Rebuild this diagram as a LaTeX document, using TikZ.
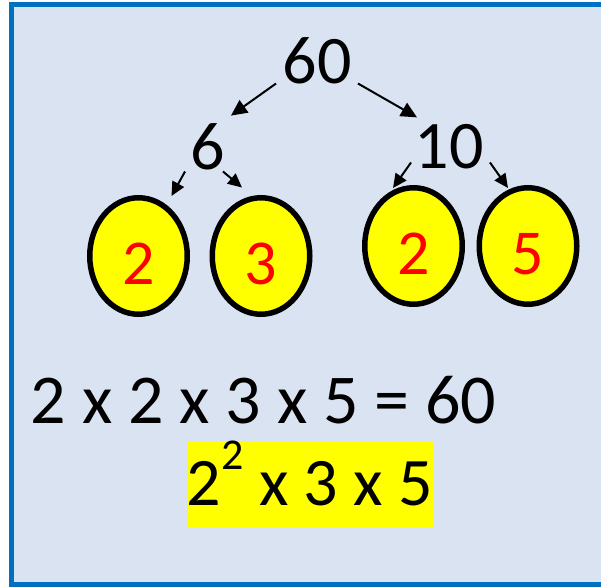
\documentclass[tikz,border=0pt]{standalone}
\usepackage{fontspec}
\setmainfont{Carlito}
\usepackage{tikz}
\usetikzlibrary{arrows.meta,shapes.geometric}
\definecolor{pfback}{RGB}{218,227,241}
\definecolor{pfframe}{RGB}{0,112,192}
\definecolor{pfyellow}{RGB}{255,255,0}
\definecolor{pfred}{RGB}{255,0,0}
\tikzset{
  treenum/.style={anchor=base,inner sep=0pt,outer sep=0pt,font=\fontsize{68}{68}\selectfont},
  primenode/.style={ellipse,draw=black,line width=5.5pt,fill=pfyellow,text=pfred,minimum width=97.5pt,minimum height=116.5pt,inner sep=0pt,text height=57pt,text depth=0pt,font=\fontsize{64}{64}\selectfont},
  eqnode/.style={anchor=base,inner sep=0pt,font=\fontsize{70}{70}\selectfont},
  hlnode/.style={fill=pfyellow,inner sep=0pt,minimum width=246pt,minimum height=85pt,text height=41pt,text depth=0pt,font=\fontsize{68}{68}\selectfont},
  bigarrow/.style={-{Triangle[length=16pt,width=15pt]},line width=2pt,draw=black},
  smallarrow/.style={-{Triangle[length=14pt,width=13pt]},line width=2pt,draw=black}
}
\newcommand{\pfpow}[1]{\raisebox{36pt}{\fontsize{44}{44}\selectfont #1}}

\begin{document}
\begin{tikzpicture}[x=1pt,y=-1pt]
  \useasboundingbox (0,0) rectangle (601,586);
  \clip (0,0) rectangle (601,586);
  \fill[pfback] (11,4.5) rectangle (620,584.5);
  \draw[pfframe,line width=5pt] (620,4.5) -- (11,4.5) -- (11,584.5) -- (620,584.5);
  \node[treenum] (top) at (317,83) {60};
  \node[treenum] (six) at (207.5,169) {6};
  \node[treenum] (ten) at (449,168) {10};
  \node[primenode] (fa) at (138.5,256) {2};
  \node[primenode] (fb) at (261,256) {3};
  \node[primenode] (fc) at (413.5,246) {2};
  \node[primenode] (fd) at (528,246) {5};
  \draw[bigarrow] ([shift={(-6.5,0)}]top.south west) -- ([shift={(6.25,-7.5)}]six.north east);
  \draw[bigarrow] ([shift={(6.5,0)}]top.south east) -- ([shift={(2.5,-6.5)}]ten.north west);
  \draw[smallarrow] ([shift={(-5.25,2)}]six.south west) -- ([shift={(33,1)}]fa.north);
  \draw[smallarrow] ([shift={(-1.75,2)}]six.south east) -- ([shift={(-19,-7.5)}]fb.north);
  \draw[smallarrow] ([shift={(-3.5,-6)}]ten.south west) -- ([shift={(-20.5,3)}]fc.north);
  \draw[smallarrow] ([shift={(6.5,-6)}]ten.south east) -- ([shift={(-20,3)}]fd.north);
  \node[eqnode] (product) at (263.5,423) {2 x 2 x 3 x 5 = 60};
  \node[hlnode] (powers) at (310,484.5) {2\pfpow{2} x 3 x 5};
\end{tikzpicture}
\end{document}
